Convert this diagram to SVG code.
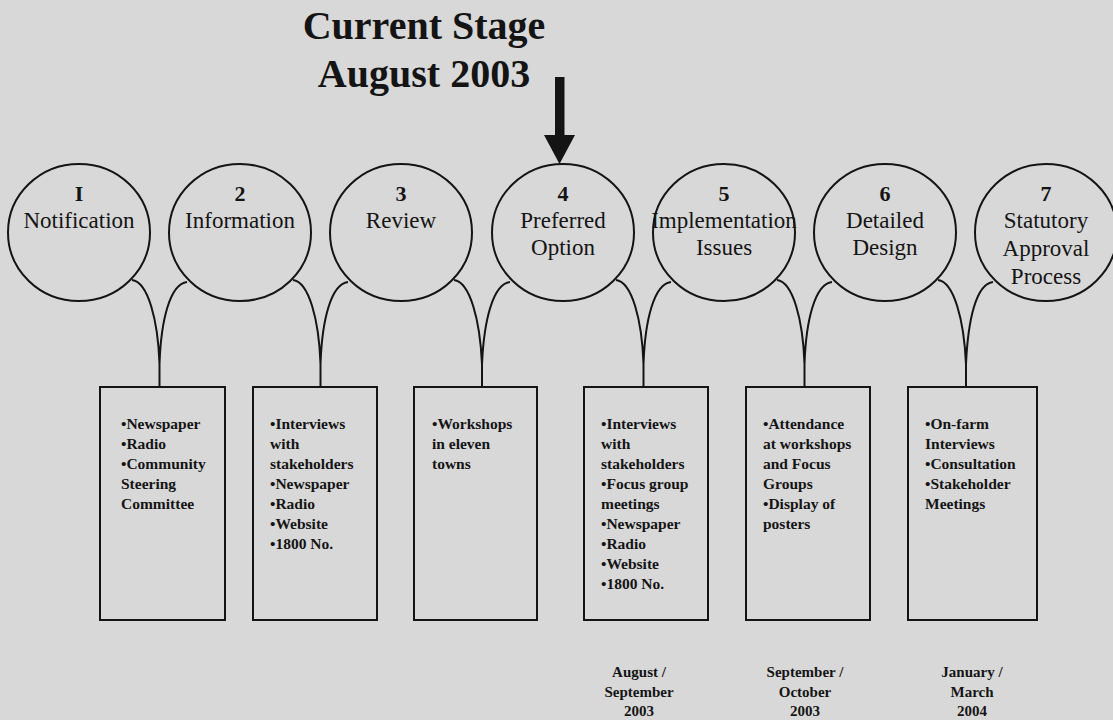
<svg xmlns="http://www.w3.org/2000/svg" width="1113" height="720" viewBox="0 0 1113 720">
<style>
  .bg { fill: #d8d8d8; }
  .stage { fill: none; stroke: #141414; stroke-width: 2; }
  .box { fill: none; stroke: #141414; stroke-width: 2; }
  .conn { fill: none; stroke: #141414; stroke-width: 2; }
  .num { font-family: "Liberation Serif", "Times New Roman", serif; font-weight: bold; font-size: 22px; fill: #141414; text-anchor: middle; }
  .lbl { font-family: "Liberation Serif", "Times New Roman", serif; font-size: 23px; fill: #141414; text-anchor: middle; }
  .item { font-family: "Liberation Serif", "Times New Roman", serif; font-weight: bold; font-size: 15.5px; fill: #141414; }
  .date { font-family: "Liberation Serif", "Times New Roman", serif; font-weight: bold; font-size: 15px; fill: #141414; text-anchor: middle; }
  .title { font-family: "Liberation Serif", "Times New Roman", serif; font-weight: bold; font-size: 40px; fill: #141414; text-anchor: middle; }
</style>
<rect class="bg" x="0" y="0" width="1113" height="720"/>

<g id="title">
  <text class="title" x="424" y="39">Current Stage</text>
  <text class="title" x="424" y="87">August 2003</text>
</g>
<g id="current-arrow">
  <rect x="555" y="77" width="9.5" height="60" fill="#141414"/>
  <polygon points="544,135 575,135 559.5,164" fill="#141414"/>
</g>

<g id="connectors">
  <path class="conn" d="M132,280 C148,282 158,320 159.5,364 L159.5,387 M187,282 C170,284 161,320 159.5,364"/>
  <path class="conn" d="M293,280 C309,282 319,320 320.5,364 L320.5,387 M348,282 C331,284 322,320 320.5,364"/>
  <path class="conn" d="M454,280 C470,282 480,320 482,364 L482,387 M510,282 C493,284 484,320 482,364"/>
  <path class="conn" d="M616,280 C632,282 642,320 643.5,364 L643.5,387 M671,282 C654,284 645,320 643.5,364"/>
  <path class="conn" d="M777,280 C793,282 803,320 804.5,364 L804.5,387 M832,282 C815,284 806,320 804.5,364"/>
  <path class="conn" d="M938,280 C954,282 964,320 966,364 L966,387 M993,282 C976,284 968,320 966,364"/>
</g>

<g id="stage1">
  <ellipse class="stage" cx="79" cy="232.5" rx="71" ry="68.5"/>
  <text class="num" x="79" y="201">I</text>
  <text class="lbl" x="79" y="228">Notification</text>
</g>
<g id="stage2">
  <ellipse class="stage" cx="240" cy="232.5" rx="71" ry="68.5"/>
  <text class="num" x="240" y="201">2</text>
  <text class="lbl" x="240" y="228">Information</text>
</g>
<g id="stage3">
  <ellipse class="stage" cx="401" cy="232.5" rx="71" ry="68.5"/>
  <text class="num" x="401" y="201">3</text>
  <text class="lbl" x="401" y="228">Review</text>
</g>
<g id="stage4">
  <ellipse class="stage" cx="563" cy="232.5" rx="71" ry="68.5"/>
  <text class="num" x="563" y="201">4</text>
  <text class="lbl" x="563" y="228">Preferred</text>
  <text class="lbl" x="563" y="255">Option</text>
</g>
<g id="stage5">
  <ellipse class="stage" cx="724" cy="232.5" rx="71" ry="68.5"/>
  <text class="num" x="724" y="201">5</text>
  <text class="lbl" x="724" y="228">Implementation</text>
  <text class="lbl" x="724" y="255">Issues</text>
</g>
<g id="stage6">
  <ellipse class="stage" cx="885" cy="232.5" rx="71" ry="68.5"/>
  <text class="num" x="885" y="201">6</text>
  <text class="lbl" x="885" y="228">Detailed</text>
  <text class="lbl" x="885" y="255">Design</text>
</g>
<g id="stage7">
  <ellipse class="stage" cx="1046" cy="232.5" rx="71" ry="68.5"/>
  <text class="num" x="1046" y="201">7</text>
  <text class="lbl" x="1046" y="228">Statutory</text>
  <text class="lbl" x="1046" y="256">Approval</text>
  <text class="lbl" x="1046" y="284">Process</text>
</g>

<g id="box1">
  <rect class="box" x="100" y="387" width="125" height="233"/>
  <text class="item" x="121" y="429">•Newspaper</text>
  <text class="item" x="121" y="449">•Radio</text>
  <text class="item" x="121" y="469">•Community</text>
  <text class="item" x="121" y="489">Steering</text>
  <text class="item" x="121" y="509">Committee</text>
</g>
<g id="box2">
  <rect class="box" x="253" y="387" width="124" height="233"/>
  <text class="item" x="270" y="429">•Interviews</text>
  <text class="item" x="270" y="449">with</text>
  <text class="item" x="270" y="469">stakeholders</text>
  <text class="item" x="270" y="489">•Newspaper</text>
  <text class="item" x="270" y="509">•Radio</text>
  <text class="item" x="270" y="529">•Website</text>
  <text class="item" x="270" y="549">•1800 No.</text>
</g>
<g id="box3">
  <rect class="box" x="414" y="387" width="123" height="233"/>
  <text class="item" x="432" y="429">•Workshops</text>
  <text class="item" x="432" y="449">in eleven</text>
  <text class="item" x="432" y="469">towns</text>
</g>
<g id="box4">
  <rect class="box" x="584" y="387" width="124" height="233"/>
  <text class="item" x="601" y="429">•Interviews</text>
  <text class="item" x="601" y="449">with</text>
  <text class="item" x="601" y="469">stakeholders</text>
  <text class="item" x="601" y="489">•Focus group</text>
  <text class="item" x="601" y="509">meetings</text>
  <text class="item" x="601" y="529">•Newspaper</text>
  <text class="item" x="601" y="549">•Radio</text>
  <text class="item" x="601" y="569">•Website</text>
  <text class="item" x="601" y="589">•1800 No.</text>
</g>
<g id="box5">
  <rect class="box" x="746" y="387" width="124" height="233"/>
  <text class="item" x="763" y="429">•Attendance</text>
  <text class="item" x="763" y="449">at workshops</text>
  <text class="item" x="763" y="469">and Focus</text>
  <text class="item" x="763" y="489">Groups</text>
  <text class="item" x="763" y="509">•Display of</text>
  <text class="item" x="763" y="529">posters</text>
</g>
<g id="box6">
  <rect class="box" x="908" y="387" width="129" height="233"/>
  <text class="item" x="925" y="429">•On-farm</text>
  <text class="item" x="925" y="449">Interviews</text>
  <text class="item" x="925" y="469">•Consultation</text>
  <text class="item" x="925" y="489">•Stakeholder</text>
  <text class="item" x="925" y="509">Meetings</text>
</g>

<g id="date1">
  <text class="date" x="639" y="677">August /</text>
  <text class="date" x="639" y="697">September</text>
  <text class="date" x="639" y="716">2003</text>
</g>
<g id="date2">
  <text class="date" x="805" y="677">September /</text>
  <text class="date" x="805" y="697">October</text>
  <text class="date" x="805" y="716">2003</text>
</g>
<g id="date3">
  <text class="date" x="972" y="677">January /</text>
  <text class="date" x="972" y="697">March</text>
  <text class="date" x="972" y="716">2004</text>
</g>
</svg>
